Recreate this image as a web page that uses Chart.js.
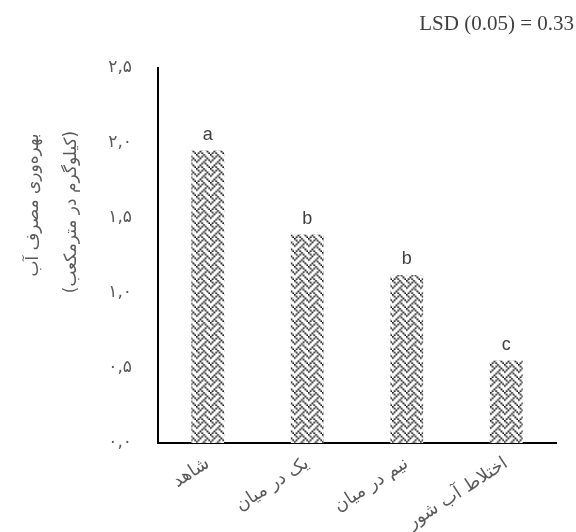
<!DOCTYPE html>
<html>
<head>
    <meta charset="utf-8">
    <title>بهره‌وری مصرف آب</title>
    <script src="https://cdn.jsdelivr.net/npm/chart.js"></script>
    <style>
        body { margin: 0; background: #fff; }
        #wrap { width: 576px; height: 532px; }
    </style>
</head>
<body>
    <div id="wrap"><canvas id="waterChart" width="576" height="532"></canvas></div>

    <script>
    // داده‌ها
    const categories = ['شاهد', 'یک در میان', 'نیم در میان', 'اختلاط آب شور'];
    const productivity = [1.95, 1.39, 1.12, 0.55];
    const groupLetters = ['a', 'b', 'b', 'c'];
    const yTitleLines = ['بهره‌وری مصرف آب', '(کیلوگرم در مترمکعب)'];
    const lsdText = 'LSD (0.05) = 0.33';

    const faDigits = '۰۱۲۳۴۵۶۷۸۹';
    function toFa(v) {
        return v.toFixed(1).replace('.', ',').replace(/\d/g, d => faDigits[d]);
    }

    // weave hatch pattern (like Excel), scaled up a bit so it blurs like the original
    function makePattern() {
        const bits = [0x88, 0x54, 0x22, 0x45, 0x88, 0x14, 0x22, 0x51];
        const src = document.createElement('canvas');
        src.width = 8; src.height = 8;
        const g = src.getContext('2d');
        g.fillStyle = '#fff';
        g.fillRect(0, 0, 8, 8);
        g.fillStyle = '#1a1a1a';
        for (let r = 0; r < 8; r++) {
            for (let k = 0; k < 8; k++) {
                if (bits[r] & (0x80 >> k)) g.fillRect(k, r, 1, 1);
            }
        }
        const c = document.createElement('canvas');
        c.width = 14; c.height = 14;
        const g2 = c.getContext('2d');
        g2.imageSmoothingEnabled = true;
        g2.drawImage(src, 0, 0, 14, 14);
        return g2.createPattern(c, 'repeat');
    }

    const extras = {
        id: 'extras',
        afterDatasetsDraw(chart) {
            const ctx = chart.ctx;
            const meta = chart.getDatasetMeta(0);
            ctx.save();
            ctx.fillStyle = '#404040';
            ctx.font = '18px "Liberation Sans", sans-serif';
            ctx.textAlign = 'center';
            ctx.textBaseline = 'alphabetic';
            meta.data.forEach((bar, i) => {
                ctx.fillText(groupLetters[i], bar.x, bar.y - 11);
            });

            ctx.font = '21px "Liberation Serif", serif';
            ctx.textAlign = 'right';
            ctx.fillText(lsdText, 574, 30);

            ctx.fillStyle = '#595959';
            ctx.font = '17px "DejaVu Sans", sans-serif';
            ctx.direction = 'rtl';
            ctx.textAlign = 'center';
            ctx.textBaseline = 'middle';
            [[34, 205], [72, 212]].forEach((p, i) => {
                ctx.save();
                ctx.translate(p[0], p[1]);
                ctx.rotate(-Math.PI / 2);
                ctx.fillText(yTitleLines[i], 0, 0);
                ctx.restore();
            });
            ctx.restore();
        }
    };

    const ctx = document.getElementById('waterChart').getContext('2d');
    new Chart(ctx, {
        type: 'bar',
        data: {
            labels: categories,
            datasets: [{
                data: productivity,
                backgroundColor: makePattern(),
                borderWidth: 0,
                barPercentage: 0.33,
                categoryPercentage: 1
            }]
        },
        options: {
            responsive: false,
            animation: false,
            layout: { padding: { top: 68, right: 20, left: 0, bottom: 0 } },
            plugins: {
                legend: { display: false },
                tooltip: { enabled: false }
            },
            scales: {
                x: {
                    grid: { display: false, drawTicks: false },
                    border: { color: '#000', width: 2 },
                    ticks: {
                        color: '#595959',
                        font: { family: 'DejaVu Sans', size: 18 },
                        maxRotation: 33,
                        minRotation: 33,
                        padding: 10
                    },
                    afterFit(scale) { scale.height = 89; }
                },
                y: {
                    min: 0,
                    max: 2.5,
                    grid: { display: false, drawTicks: false },
                    border: { color: '#000', width: 2 },
                    ticks: {
                        stepSize: 0.5,
                        color: '#595959',
                        font: { family: 'DejaVu Sans', size: 17 },
                        padding: 26,
                        callback: v => toFa(v)
                    },
                    afterFit(scale) { scale.width = 158; }
                }
            }
        },
        plugins: [extras]
    });
    </script>
</body>
</html>
